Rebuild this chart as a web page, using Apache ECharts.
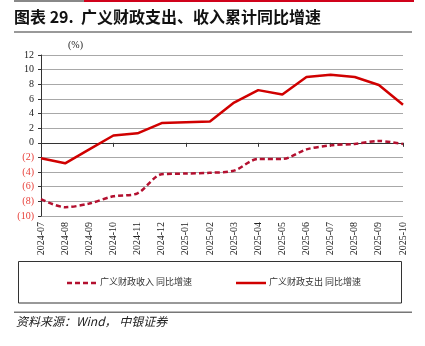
<!DOCTYPE html>
<html>
<head>
<meta charset="utf-8">
<script src="https://cdn.jsdelivr.net/npm/echarts@6/dist/echarts.min.js"></script>
<style>
  html, body { margin: 0; padding: 0; background: #fff; }
  #chart { width: 425px; height: 346px; }
</style>
</head>
<body>
<div id="chart"></div>
<script>
// Monthly periods (cumulative year-on-year growth, %)
var months = ['2024-07','2024-08','2024-09','2024-10','2024-11','2024-12',
              '2025-01','2025-02','2025-03','2025-04','2025-05','2025-06',
              '2025-07','2025-08','2025-09','2025-10'];
// 广义财政收入 同比增速
var revenueYoY = [-7.7, -8.8, -8.3, -7.3, -6.9, -4.3, -4.2, -4.1, -3.8, -2.2, -2.2, -0.9, -0.35, -0.15, 0.25, -0.15];
// 广义财政支出 同比增速
var spendingYoY = [-2.1, -2.8, -0.9, 1.0, 1.3, 2.7, 2.8, 2.9, 5.5, 7.2, 6.6, 9.0, 9.3, 9.0, 7.9, 5.2];

var seriesNames = ['广义财政收入 同比增速', '广义财政支出 同比增速'];
var titleText = '图表 29.  广义财政支出、收入累计同比增速';
var sourceText = '资料来源：Wind， 中银证券';

var serif = '"Liberation Serif", "Noto Sans CJK SC", serif';
var cjk = '"Noto Sans CJK SC", sans-serif';

var chart = echarts.init(document.getElementById('chart'), null, { renderer: 'canvas' });

chart.setOption({
  animation: false,
  backgroundColor: '#fff',
  grid: { left: 41, right: 22, top: 55, bottom: 130, containLabel: false },
  xAxis: [
    {
      type: 'category', data: months, boundaryGap: false, position: 'bottom',
      axisLine: { show: false }, axisTick: { show: false },
      axisLabel: { rotate: 90, interval: 0, fontFamily: serif, fontSize: 10, color: '#222', margin: 6 }
    },
    {
      type: 'category', data: months, boundaryGap: false, position: 'top',
      axisLine: { show: true, onZero: true, onZeroAxisIndex: 0, lineStyle: { color: '#333', width: 1 } },
      axisTick: { show: true, inside: true, length: 4, lineStyle: { color: '#333' } },
      axisLabel: { show: false }
    }
  ],
  yAxis: {
    type: 'value', min: -10, max: 12, interval: 2,
    axisLine: { show: true, lineStyle: { color: '#333', width: 1 } },
    axisTick: { show: true, length: 3, lineStyle: { color: '#333' } },
    splitLine: { show: true, lineStyle: { color: '#a8a8a8', width: 1 } },
    axisLabel: {
      fontFamily: serif, fontSize: 10, margin: 7,
      formatter: function (v) { return v < 0 ? '{n|(' + (-v) + ')}' : '{p|' + v + '}'; },
      rich: {
        p: { color: '#222', fontFamily: serif, fontSize: 10 },
        n: { color: '#e8403a', fontFamily: serif, fontSize: 10 }
      }
    }
  },
  series: [
    {
      name: seriesNames[0], type: 'line', data: revenueYoY, smooth: 0.3,
      symbol: 'none', xAxisIndex: 0,
      lineStyle: { color: '#b3102f', width: 2.5, type: [5, 3] }
    },
    {
      name: seriesNames[1], type: 'line', data: spendingYoY,
      symbol: 'none', xAxisIndex: 0,
      lineStyle: { color: '#d00000', width: 2.5 }
    }
  ],
  graphic: [
    // header bars
    { type: 'rect', shape: { x: 14, y: 0, width: 70, height: 2 }, style: { fill: '#888' } },
    { type: 'rect', shape: { x: 84, y: 0, width: 330, height: 2 }, style: { fill: '#d0021b' } },
    { type: 'text', left: 14, top: 9, style: { text: titleText, fontFamily: cjk, fontWeight: 'bold', fontSize: 16, fill: '#111' } },
    { type: 'rect', shape: { x: 14, y: 31, width: 398, height: 2 }, style: { fill: '#999' } },
    { type: 'text', left: 68, top: 40, style: { text: '(%)', fontFamily: serif, fontSize: 10, fill: '#222' } },
    // legend frame
    { type: 'rect', shape: { x: 18.5, y: 261.5, width: 383, height: 41.5 }, style: { fill: 'none', stroke: '#333', lineWidth: 1 } },
    { type: 'line', shape: { x1: 67, y1: 283, x2: 97, y2: 283 }, style: { stroke: '#b3102f', lineWidth: 2.5, lineDash: [5, 3] } },
    { type: 'text', left: 100, top: 277, style: { text: seriesNames[0], fontFamily: cjk, fontSize: 9, fill: '#333' } },
    { type: 'line', shape: { x1: 236, y1: 283, x2: 266, y2: 283 }, style: { stroke: '#d00000', lineWidth: 2.5 } },
    { type: 'text', left: 269, top: 277, style: { text: seriesNames[1], fontFamily: cjk, fontSize: 9, fill: '#333' } },
    // footer
    { type: 'rect', shape: { x: 14, y: 311.5, width: 398, height: 1.5 }, style: { fill: '#777' } },
    { type: 'text', left: 16, top: 315, style: { text: sourceText, fontFamily: cjk, fontStyle: 'italic', fontSize: 12, fill: '#222' } }
  ]
});
</script>
</body>
</html>
